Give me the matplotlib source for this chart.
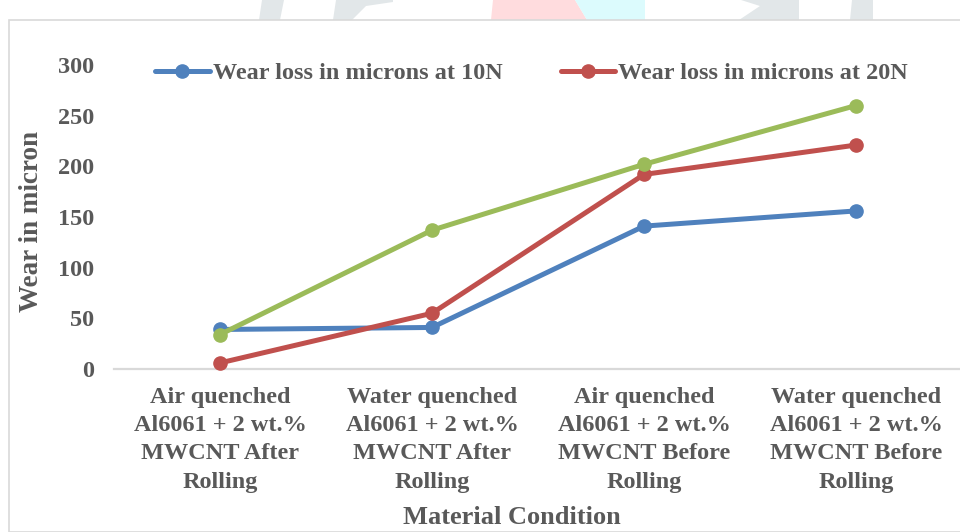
import matplotlib
matplotlib.use("Agg")
import matplotlib.pyplot as plt
from matplotlib.patches import Rectangle, Polygon

# Data
categories = [
    "Air quenched\nAl6061 + 2 wt.%\nMWCNT After\nRolling",
    "Water quenched\nAl6061 + 2 wt.%\nMWCNT After\nRolling",
    "Air quenched\nAl6061 + 2 wt.%\nMWCNT Before\nRolling",
    "Water quenched\nAl6061 + 2 wt.%\nMWCNT Before\nRolling",
]
wear_10n = [39, 41, 141, 156]
wear_20n = [6, 55, 192, 221]
wear_third = [34, 137, 202, 260]
series_labels = ["Wear loss in microns at 10N", "Wear loss in microns at 20N"]
y_ticks = [0, 50, 100, 150, 200, 250, 300]

TXT = "#595959"
BLUE = "#4F81BD"
RED = "#C0504D"
GREEN = "#9BBB59"
FONT = "Liberation Serif"

plt.rcParams["font.family"] = [FONT, "DejaVu Serif"]
plt.rcParams["font.weight"] = "bold"

fig = plt.figure(figsize=(9.6, 5.32), dpi=100)
W, H = 960, 532

def fx(px):
    return px / W

def fy(py):
    return 1 - py / H

# faint background decoration peeking above the chart frame
deco = [
    (Polygon([(fx(259), fy(20)), (fx(280), fy(20)), (fx(284), fy(0)), (fx(262), fy(0))]), "#E2E7E9"),
    (Polygon([(fx(333), fy(20)), (fx(352), fy(20)), (fx(366), fy(6)), (fx(393), fy(2)), (fx(393), fy(0)), (fx(336), fy(0))]), "#E2E7E9"),
    (Polygon([(fx(491), fy(20)), (fx(587), fy(20)), (fx(575), fy(0)), (fx(493), fy(0))]), "#FFDCDE"),
    (Polygon([(fx(587), fy(20)), (fx(645), fy(20)), (fx(645), fy(0)), (fx(575), fy(0))]), "#DCFBFD"),
    (Polygon([(fx(739), fy(20)), (fx(799), fy(20)), (fx(799), fy(0)), (fx(741), fy(0)), (fx(760), fy(6))]), "#E2E7E9"),
    (Polygon([(fx(850), fy(20)), (fx(873), fy(20)), (fx(873), fy(0)), (fx(852), fy(0))]), "#E2E7E9"),
]
for patch, col in deco:
    patch.set_transform(fig.transFigure)
    patch.set_facecolor(col)
    patch.set_edgecolor("none")
    patch.set_zorder(0)
    fig.patches.append(patch)

# chart frame
frame = Rectangle((fx(9), 0), 1.2, fy(20), transform=fig.transFigure,
                  facecolor="white", edgecolor="#D9D9D9", linewidth=1.2, zorder=1)
fig.patches.append(frame)

ax = fig.add_axes([fx(114), fy(369), fx(962) - fx(114), fy(65) - fy(369)])
ax.set_facecolor("none")
ax.set_zorder(2)

x = [i + 0.5 for i in range(len(categories))]
lw, ms = 3.6, 9.5
h1, = ax.plot(x, wear_10n, color=BLUE, lw=lw, marker="o", ms=ms, label=series_labels[0],
              solid_capstyle="round", clip_on=False)
h2, = ax.plot(x, wear_20n, color=RED, lw=lw, marker="o", ms=ms, label=series_labels[1],
              solid_capstyle="round", clip_on=False)
ax.plot(x, wear_third, color=GREEN, lw=lw, marker="o", ms=ms,
        solid_capstyle="round", clip_on=False)

ax.set_xlim(0, 4)
ax.set_ylim(0, 300)
ax.set_yticks(y_ticks)
ax.set_xticks(x)
ax.set_xticklabels(categories, fontsize=17.5, color=TXT, fontweight="bold", linespacing=1.45)
ax.tick_params(axis="x", length=0, pad=13)
ax.tick_params(axis="y", length=0, pad=14, labelsize=17.5, labelcolor=TXT)
for lab in ax.get_yticklabels():
    lab.set_fontweight("bold")

for s in ["top", "right", "left"]:
    ax.spines[s].set_visible(False)
ax.spines["bottom"].set_color("#D9D9D9")
ax.spines["bottom"].set_linewidth(1.6)
ax.spines["bottom"].set_zorder(0)

fig.text(fx(32), fy(221), "Wear in micron", fontsize=19.5, color=TXT, fontweight="bold",
         rotation=90, ha="center", va="center")
fig.text(fx(512), fy(518), "Material Condition", fontsize=19, color=TXT,
         fontweight="bold", ha="center", va="center")

leg = ax.legend(handles=[h1, h2], loc="center left", ncol=2, frameon=False,
                bbox_to_anchor=(fx(155 - 114) / (fx(962) - fx(114)), (fy(73) - fy(369)) / (fy(65) - fy(369))),
                bbox_transform=ax.transAxes, handlelength=2.25, handletextpad=0.12,
                columnspacing=2.4, borderaxespad=0, borderpad=0,
                prop={"family": FONT, "weight": "bold", "size": 17.5})
for t in leg.get_texts():
    t.set_color(TXT)

fig.savefig("out.png", dpi=100)
